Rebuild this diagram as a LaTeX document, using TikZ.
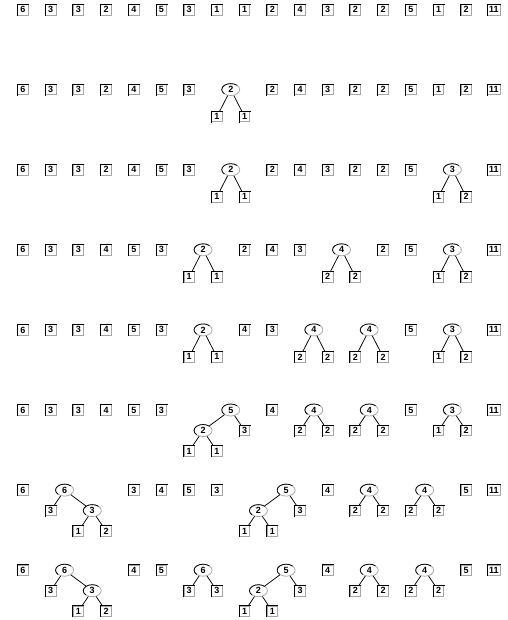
\documentclass[tikz,border=0pt]{standalone}
\usepackage{fontspec}
\setmainfont{Liberation Sans}
\usetikzlibrary{shapes.geometric}
\tikzset{
  hi/.style={draw=black,line width=0.75pt,line cap=rect},
  ed/.style={draw=black,line width=0.75pt},
  bx/.style={draw=black!35,line width=0.75pt,minimum width=10.5pt,minimum height=10.5pt,inner xsep=1.5pt,inner ysep=0pt,font=\bfseries\fontsize{9}{9}\selectfont},
  el/.style={ellipse,draw=black!35,line width=0.75pt,minimum width=18pt,minimum height=12pt,inner sep=0pt,font=\bfseries\fontsize{9}{9}\selectfont}
}
% leaf box: name, slot, y, label
\newcommand\Lf[4]{%
  \node[bx] (#1) at ({23+27.7*(#2)},{#3}) {#4};
  \draw[hi] (#1.south west) -- (#1.north west) -- (#1.north east);}
% inner ellipse: name, slot position, y, label
\newcommand\In[4]{%
  \node[el] (#1) at ({23+27.7*(#2)},{#3}) {#4};
  \draw[hi,line cap=butt] ([shift={(45:9pt and 6pt)}]#1.center) arc[start angle=45,end angle=225,x radius=9pt,y radius=6pt];}
% two-leaf tree: prefix, first slot, y, level step, parent, left, right
\newcommand\Tpair[7]{%
  \In{#1}{#2+0.5}{#3}{#5}
  \Lf{#1l}{#2}{#3+#4}{#6}
  \Lf{#1r}{#2+1}{#3+#4}{#7}
  \draw[ed] (#1) -- (#1l);
  \draw[ed] (#1) -- (#1r);}
% tree 5 = (2:1,1) + 3
\newcommand\Tfive[4]{%
  \In{#1}{#2+1.5}{#3}{5}
  \In{#1a}{#2+0.5}{#3+#4}{2}
  \Lf{#1b}{#2}{#3+2*#4}{1}
  \Lf{#1c}{#2+1}{#3+2*#4}{1}
  \Lf{#1d}{#2+2}{#3+#4}{3}
  \draw[ed] (#1) -- (#1a);
  \draw[ed] (#1) -- (#1d);
  \draw[ed] (#1a) -- (#1b);
  \draw[ed] (#1a) -- (#1c);}
% tree 6 = 3 + (3:1,2)
\newcommand\Tsix[4]{%
  \In{#1}{#2+0.5}{#3}{6}
  \Lf{#1a}{#2}{#3+#4}{3}
  \In{#1b}{#2+1.5}{#3+#4}{3}
  \Lf{#1c}{#2+1}{#3+2*#4}{1}
  \Lf{#1d}{#2+2}{#3+2*#4}{2}
  \draw[ed] (#1) -- (#1a);
  \draw[ed] (#1) -- (#1b);
  \draw[ed] (#1b) -- (#1c);
  \draw[ed] (#1b) -- (#1d);}
\begin{document}
\begin{tikzpicture}[x=1pt,y=-1pt]
\useasboundingbox[fill=white] (0,0) rectangle (507,620);
% row 1
\foreach \s/\t in {0/6,1/3,2/3,3/2,4/4,5/5,6/3,7/1,8/1,9/2,10/4,11/3,12/2,13/2,14/5,15/1,16/2,17/11}
  {\Lf{ra\s}{\s}{9.8}{\t}}
% row 2
\foreach \s/\t in {0/6,1/3,2/3,3/2,4/4,5/5,6/3,9/2,10/4,11/3,12/2,13/2,14/5,15/1,16/2,17/11}
  {\Lf{rb\s}{\s}{89.6}{\t}}
\Tpair{tbA}{7}{89.6}{27}{2}{1}{1}
% row 3
\foreach \s/\t in {0/6,1/3,2/3,3/2,4/4,5/5,6/3,9/2,10/4,11/3,12/2,13/2,14/5,17/11}
  {\Lf{rc\s}{\s}{169.7}{\t}}
\Tpair{tcA}{7}{169.7}{27}{2}{1}{1}
\Tpair{tcB}{15}{169.7}{27}{3}{1}{2}
% row 4
\foreach \s/\t in {0/6,1/3,2/3,3/4,4/5,5/3,8/2,9/4,10/3,13/2,14/5,17/11}
  {\Lf{rd\s}{\s}{249.8}{\t}}
\Tpair{tdA}{6}{249.8}{27}{2}{1}{1}
\Tpair{tdB}{11}{249.8}{27}{4}{2}{2}
\Tpair{tdC}{15}{249.8}{27}{3}{1}{2}
% row 5
\foreach \s/\t in {0/6,1/3,2/3,3/4,4/5,5/3,8/4,9/3,14/5,17/11}
  {\Lf{re\s}{\s}{329.9}{\t}}
\Tpair{teA}{6}{329.9}{27}{2}{1}{1}
\Tpair{teB}{10}{329.9}{27}{4}{2}{2}
\Tpair{teC}{12}{329.9}{27}{4}{2}{2}
\Tpair{teD}{15}{329.9}{27}{3}{1}{2}
% row 6
\foreach \s/\t in {0/6,1/3,2/3,3/4,4/5,5/3,9/4,14/5,17/11}
  {\Lf{rf\s}{\s}{410}{\t}}
\Tfive{tfA}{6}{410}{20.5}
\Tpair{tfB}{10}{410}{20.5}{4}{2}{2}
\Tpair{tfC}{12}{410}{20.5}{4}{2}{2}
\Tpair{tfD}{15}{410}{20.5}{3}{1}{2}
% row 7
\foreach \s/\t in {0/6,4/3,5/4,6/5,7/3,11/4,16/5,17/11}
  {\Lf{rg\s}{\s}{490.1}{\t}}
\Tsix{tgA}{1}{490.1}{20.5}
\Tfive{tgB}{8}{490.1}{20.5}
\Tpair{tgC}{12}{490.1}{20.5}{4}{2}{2}
\Tpair{tgD}{14}{490.1}{20.5}{4}{2}{2}
% row 8
\foreach \s/\t in {0/6,4/4,5/5,11/4,16/5,17/11}
  {\Lf{rh\s}{\s}{570.2}{\t}}
\Tsix{thA}{1}{570.2}{20.5}
\Tpair{thB}{6}{570.2}{20.5}{6}{3}{3}
\Tfive{thC}{8}{570.2}{20.5}
\Tpair{thD}{12}{570.2}{20.5}{4}{2}{2}
\Tpair{thE}{14}{570.2}{20.5}{4}{2}{2}
\end{tikzpicture}
\end{document}
